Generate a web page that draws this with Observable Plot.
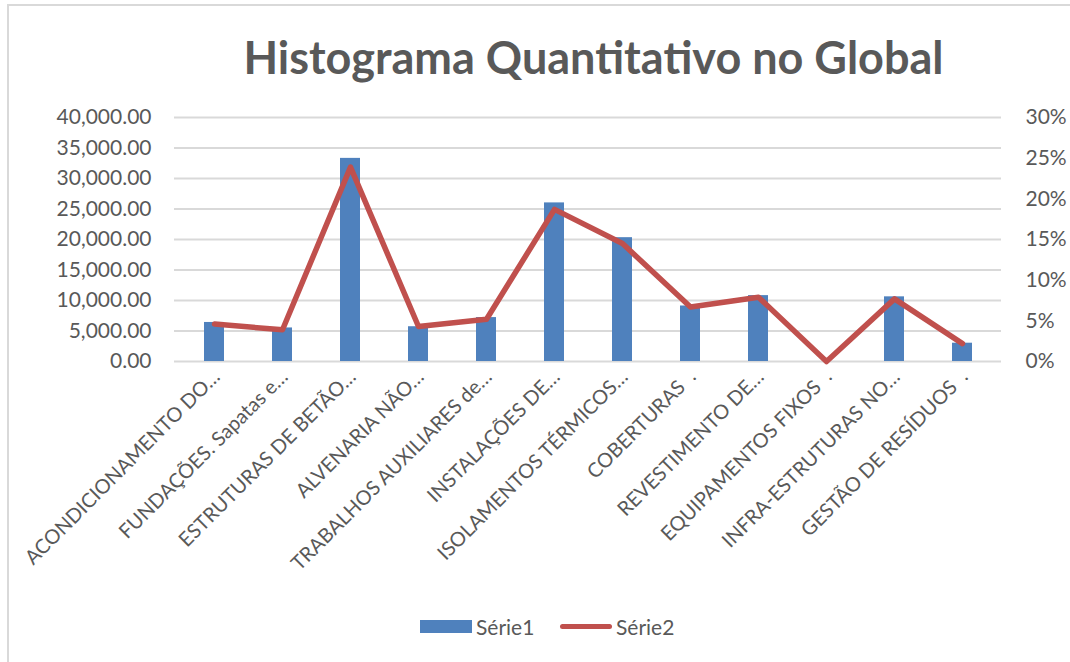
<!DOCTYPE html>
<html>
<head>
<meta charset="utf-8">
<script src="https://cdn.jsdelivr.net/npm/d3@7"></script>
<script src="https://cdn.jsdelivr.net/npm/@observablehq/plot@0.6"></script>
<style>
  html, body { margin: 0; padding: 0; background: #fff; }
  #wrap { position: relative; width: 1070px; height: 662px; overflow: hidden; font-family: Lato, "Open Sans", sans-serif; color: #595959; }
  #frameTop { position: absolute; left: 7px; top: 4px; width: 1063px; height: 2px; background: #d9d9d9; }
  #frameLeft { position: absolute; left: 7px; top: 4px; width: 2px; height: 658px; background: #d9d9d9; }
  #title { position: absolute; left: 0; top: 29px; width: 1187px; text-align: center; font-weight: bold; font-size: 45px; line-height: 56px; color: #595959; white-space: nowrap; }
  #chart { position: absolute; left: 0; top: 100px; }
  #legend { position: absolute; top: 612px; left: 0; width: 1070px; height: 30px; font-size: 21px; color: #595959; }
  .item { position: absolute; top: 0; height: 30px; line-height: 30px; }
  .sw { position: absolute; }
</style>
</head>
<body>
<div id="wrap">
  <div id="frameTop"></div>
  <div id="frameLeft"></div>
  <div id="title"></div>
  <div id="chart"></div>
  <div id="legend"></div>
</div>
<script>
const titleText = "Histograma Quantitativo no Global";
const categories = [
  "ACONDICIONAMENTO DO…",
  "FUNDAÇÕES. Sapatas e…",
  "ESTRUTURAS DE BETÃO…",
  "ALVENARIA NÃO…",
  "TRABALHOS AUXILIARES de…",
  "INSTALAÇÕES DE…",
  "ISOLAMENTOS TÉRMICOS…",
  "COBERTURAS\u00a0\u00a0.",
  "REVESTIMENTO DE…",
  "EQUIPAMENTOS FIXOS\u00a0\u00a0.",
  "INFRA-ESTRUTURAS NO…",
  "GESTÃO DE RESÍDUOS\u00a0\u00a0."
];
const serie1 = [6400, 5500, 33300, 5700, 7200, 26000, 20300, 9100, 10800, 0, 10600, 3000];
const serie2 = [4.6, 3.9, 23.9, 4.3, 5.2, 18.7, 14.5, 6.7, 7.9, 0, 7.7, 2.2];
const seriesNames = ["Série1", "Série2"];
const leftTicks = [0, 5000, 10000, 15000, 20000, 25000, 30000, 35000, 40000];
const rightTicks = [0, 5, 10, 15, 20, 25, 30];

const colors = ["#4F81BD", "#C0504D"];
const leftMax = d3.max(leftTicks), rightMax = d3.max(rightTicks);
const toLeft = p => p / rightMax * leftMax;

document.getElementById("title").textContent = titleText;

const rows = categories.map((c, i) => ({cat: c, v: serie1[i], p: serie2[i]}));

const fmt = d3.format(",.2f");

const plot = Plot.plot({
  width: 1070,
  height: 500,
  marginLeft: 174,
  marginRight: 69,
  marginTop: 17,
  marginBottom: 239,
  style: {fontFamily: "Lato, 'Open Sans', sans-serif", fontSize: "21px", color: "#595959", background: "transparent"},
  x: {domain: categories, paddingInner: 0.71, paddingOuter: 0.355, label: null},
  y: {domain: [0, leftMax], label: null},
  marks: [
    Plot.gridY(leftTicks, {stroke: "#d9d9d9", strokeOpacity: 1, strokeWidth: 2}),
    Plot.barY(rows, {x: "cat", y: "v", fill: colors[0]}),
    Plot.lineY(rows, {x: "cat", y: d => toLeft(d.p), stroke: colors[1], strokeWidth: 5.5, strokeLinejoin: "round", strokeLinecap: "round"}),
    Plot.axisY({anchor: "left", ticks: leftTicks, tickSize: 0, tickPadding: 23, tickFormat: fmt, fontSize: 21, color: "#595959", label: null}),
    Plot.axisY({anchor: "right", ticks: rightTicks.map(toLeft), tickSize: 0, tickPadding: 24, tickFormat: d => Math.round(d / leftMax * rightMax) + "%", fontSize: 21, color: "#595959", label: null}),
    Plot.axisX({tickRotate: -45, tickSize: 0, tickPadding: 12, dx: 2, fontSize: 20, color: "#595959", label: null})
  ]
});
document.getElementById("chart").appendChild(plot);

// legend
const legend = document.getElementById("legend");
const items = [
  {name: seriesNames[0], color: colors[0], type: "bar", left: 420},
  {name: seriesNames[1], color: colors[1], type: "line", left: 560}
];
items.forEach(it => {
  const el = document.createElement("div");
  el.className = "item";
  el.style.left = it.left + "px";
  const sw = document.createElement("div");
  sw.className = "sw";
  sw.style.left = "0px";
  sw.style.width = "52px";
  if (it.type === "bar") {
    sw.style.top = "8px"; sw.style.height = "13px"; sw.style.background = it.color;
  } else {
    sw.style.top = "12px"; sw.style.height = "5px"; sw.style.borderRadius = "3px"; sw.style.background = it.color;
  }
  el.appendChild(sw);
  const t = document.createElement("span");
  t.style.position = "absolute";
  t.style.left = "56px";
  t.textContent = it.name;
  el.appendChild(t);
  legend.appendChild(el);
});
</script>
</body>
</html>
